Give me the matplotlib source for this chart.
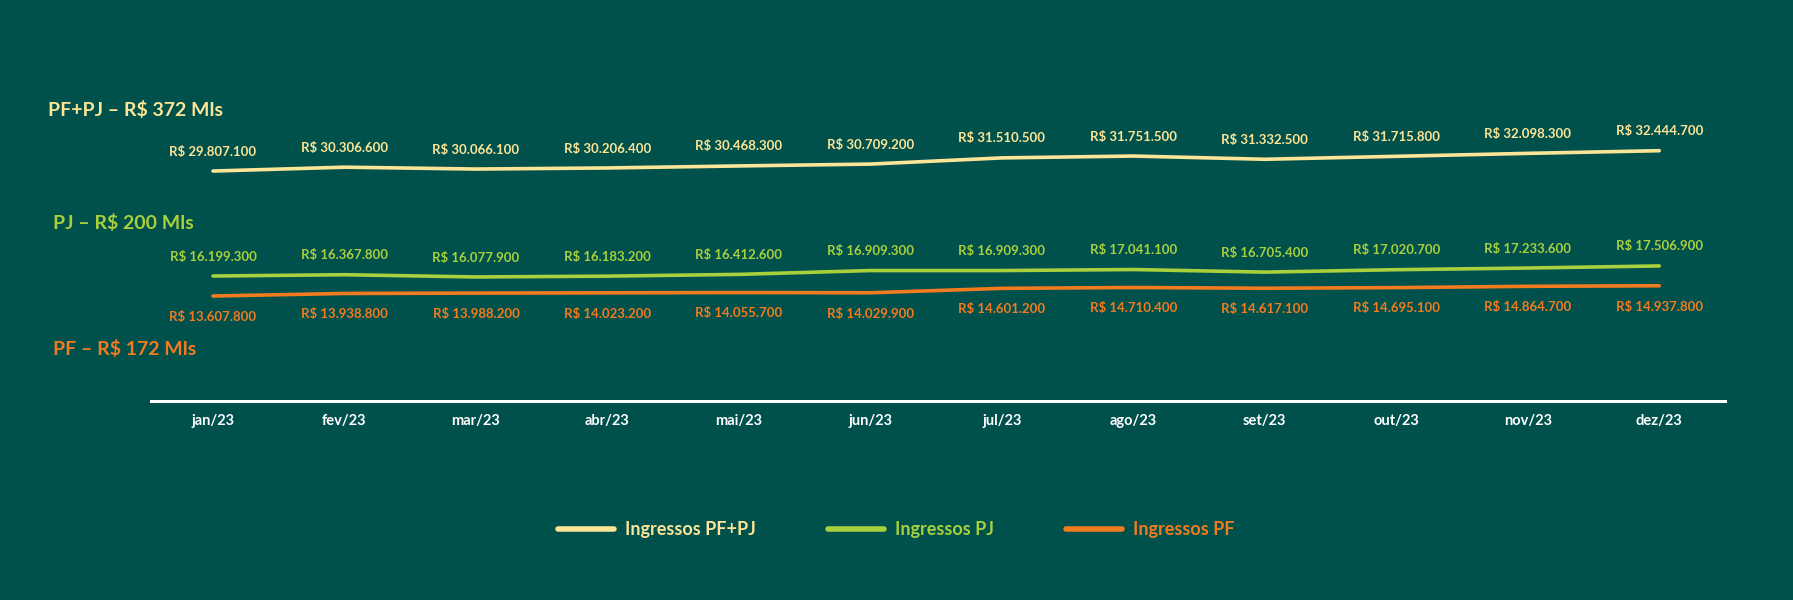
import matplotlib
matplotlib.use("Agg")
import matplotlib.pyplot as plt

# Ingressos 2023 - valores mensais (R$)
meses = ["jan/23", "fev/23", "mar/23", "abr/23", "mai/23", "jun/23",
         "jul/23", "ago/23", "set/23", "out/23", "nov/23", "dez/23"]
pf_pj = [29807100, 30306600, 30066100, 30206400, 30468300, 30709200,
         31510500, 31751500, 31332500, 31715800, 32098300, 32444700]
pj = [16199300, 16367800, 16077900, 16183200, 16412600, 16909300,
      16909300, 17041100, 16705400, 17020700, 17233600, 17506900]
pf = [13607800, 13938800, 13988200, 14023200, 14055700, 14029900,
      14601200, 14710400, 14617100, 14695100, 14864700, 14937800]

titulos = ["PF+PJ – R$ 372 Mls", "PJ – R$ 200 Mls", "PF – R$ 172 Mls"]

BG = "#00504c"
C_TOT = "#fce596"
C_PJ = "#a8cf3c"
C_PF = "#f27b1f"

plt.rcParams['font.family'] = ['Lato', 'DejaVu Sans']
plt.rcParams['font.weight'] = 'bold'


def fmt_real(v):
    return "R$ " + f"{v:,}".replace(",", ".")


fig = plt.figure(figsize=(17.93, 6), dpi=100, facecolor=BG)
ax = fig.add_axes([151 / 1793, 199 / 600, 1574 / 1793, 308.6 / 600])
ax.set_facecolor(BG)

x = list(range(len(meses)))
series = [(pf_pj, C_TOT, "Ingressos PF+PJ", 14),
          (pj, C_PJ, "Ingressos PJ", 14),
          (pf, C_PF, "Ingressos PF", -15)]

linhas = []
for vals, cor, nome, off in series:
    ys = [v / 1e6 for v in vals]
    ln, = ax.plot(x, ys, color=cor, lw=2.6, solid_capstyle='round',
                  solid_joinstyle='round', label=nome)
    linhas.append(ln)
    for xi, yi, v in zip(x, ys, vals):
        ax.annotate(fmt_real(v), (xi, yi), xytext=(0, off),
                    textcoords='offset points', ha='center', va='center',
                    color=cor, fontsize=9.5, fontweight='bold')

ax.set_xlim(-0.472, 11.5)
ax.set_ylim(0, 40)
for s in ['top', 'right', 'left']:
    ax.spines[s].set_visible(False)
ax.spines['bottom'].set_color('white')
ax.spines['bottom'].set_linewidth(2.2)
ax.set_yticks([])
ax.set_xticks(x)
ax.set_xticklabels(meses, color='white', fontsize=10.5, fontweight='bold')
ax.tick_params(axis='x', length=0, pad=9)

# titulos das series
fig.text(48 / 1793, 1 - 110 / 600, titulos[0], color=C_TOT, fontsize=14,
         fontweight='bold', va='center', ha='left')
fig.text(53 / 1793, 1 - 223 / 600, titulos[1], color=C_PJ, fontsize=14,
         fontweight='bold', va='center', ha='left')
fig.text(53 / 1793, 1 - 349 / 600, titulos[2], color=C_PF, fontsize=14,
         fontweight='bold', va='center', ha='left')

leg = fig.legend(handles=linhas, loc='center', bbox_to_anchor=(0.5, 1 - 530 / 600),
                 ncol=3, frameon=False, labelcolor='linecolor',
                 prop={'size': 13, 'weight': 'bold'},
                 handlelength=3.1, handletextpad=0.6, columnspacing=4.0)
for h in leg.legend_handles:
    h.set_linewidth(4)
    h.set_solid_capstyle('round')

fig.savefig("out.png", dpi=100, facecolor=BG)
